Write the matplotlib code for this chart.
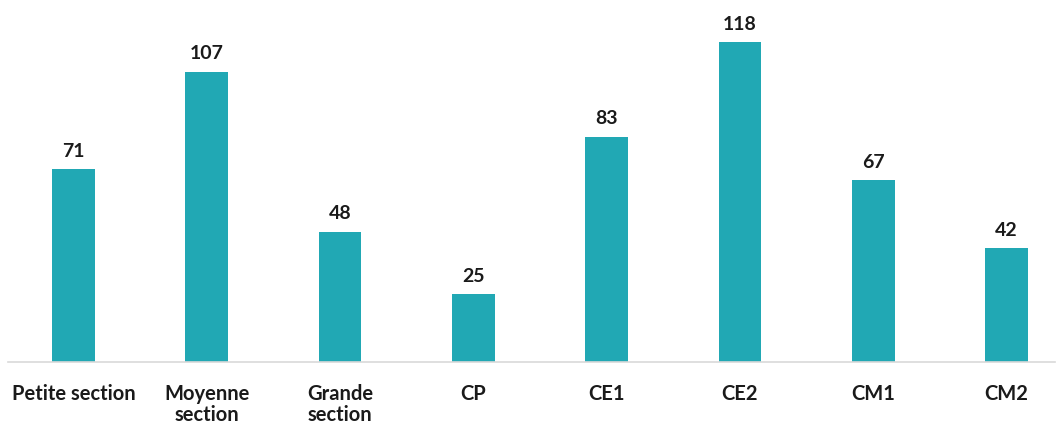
import matplotlib.pyplot as plt

categories = ['Petite section', 'Moyenne\nsection', 'Grande\nsection', 'CP', 'CE1', 'CE2', 'CM1', 'CM2']
values = [71, 107, 48, 25, 83, 118, 67, 42]

plt.rcParams['font.family'] = ['Lato', 'DejaVu Sans']

fig = plt.figure(figsize=(10.61, 4.25), dpi=100)
ax = fig.add_axes([8 / 1061, 63 / 425, 1047 / 1061, 362 / 425])

x = range(len(categories))
ax.bar(x, values, width=0.32, color='#21A8B4')
for i, v in enumerate(values):
    ax.text(i, v + 3.5, str(v), ha='center', va='bottom', fontsize=14, fontweight='bold', color='#1a1a1a')

ax.set_xlim(-0.491, 7.363)
ax.set_ylim(0, 133.5)
ax.set_xticks(list(x))
ax.set_xticklabels(categories, fontsize=14.5, fontweight='bold', color='#1a1a1a', va='top', linespacing=1.05)
ax.tick_params(axis='x', length=0, pad=16)
ax.set_yticks([])
for s in ['top', 'right', 'left']:
    ax.spines[s].set_visible(False)
ax.spines['bottom'].set_color('#D9D9D9')
ax.spines['bottom'].set_linewidth(1.2)

fig.savefig('out.png', dpi=100)
